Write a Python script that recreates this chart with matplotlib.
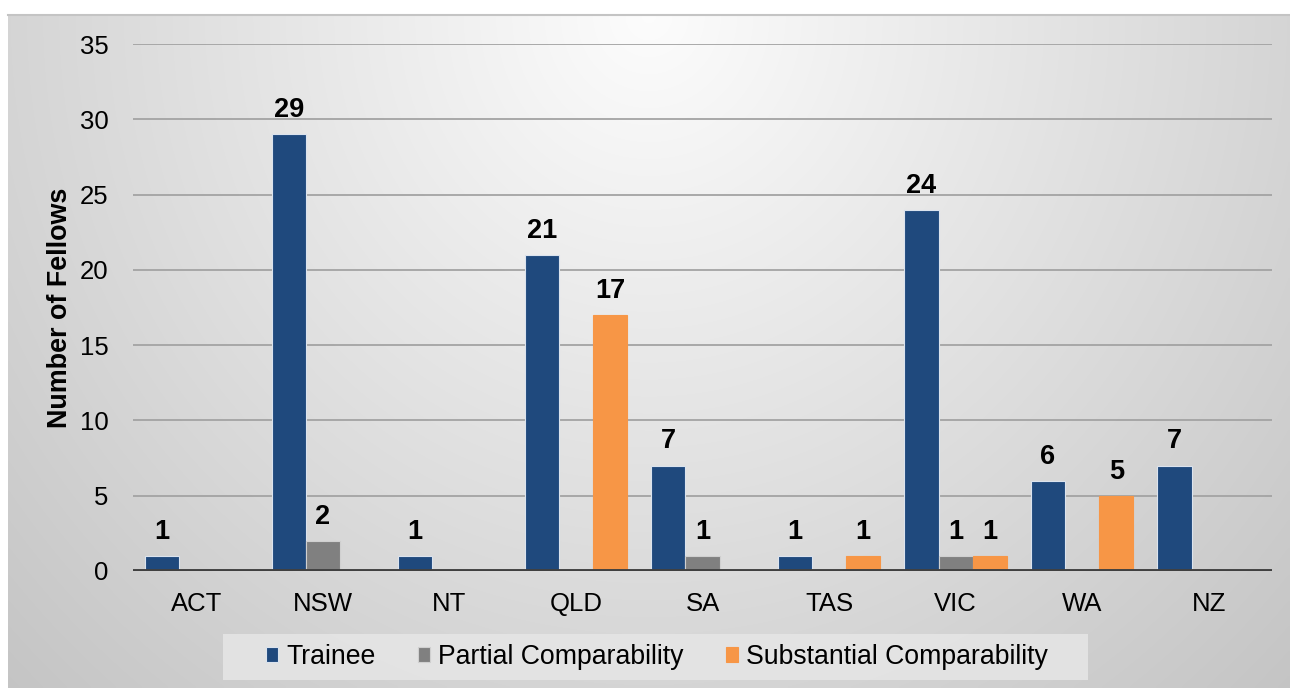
import numpy as np
import matplotlib.pyplot as plt
from matplotlib.lines import Line2D
from matplotlib.patches import Rectangle

plt.rcParams['font.family'] = ['Liberation Sans', 'DejaVu Sans']

regions = ['ACT', 'NSW', 'NT', 'QLD', 'SA', 'TAS', 'VIC', 'WA', 'NZ']
trainee = [1, 29, 1, 21, 7, 1, 24, 6, 7]
partial = [0, 2, 0, 0, 1, 0, 1, 0, 0]
substantial = [0, 0, 0, 17, 0, 1, 1, 5, 0]
series_names = ['Trainee', 'Partial Comparability', 'Substantial Comparability']
series_colors = ['#1F497D', '#808080', '#F79646']
series_edges = ['#dbe3ee', '#d0d0d0', '#F79646']

W, H = 1290, 688
fig = plt.figure(figsize=(W / 100, H / 100), dpi=100)
fig.patch.set_facecolor('white')

# chart area background: soft radial gradient from the top centre
bg = fig.add_axes([8 / W, 0, (W - 8) / W, (H - 14) / H], zorder=-10)
ny, nx = 200, 400
yy, xx = np.mgrid[0:1:ny * 1j, -1:1:nx * 1j]
r = np.sqrt(xx ** 2 + yy ** 2)
shade = 0.99 - 0.155 * r
bg.imshow(np.dstack([shade] * 3), aspect='auto', extent=[0, 1, 0, 1],
          origin='upper', interpolation='bilinear')
bg.set_axis_off()
fig.add_artist(Line2D([8 / W, 1], [(H - 14.5) / H] * 2, color='#c4c4c4', lw=1.5))

# legend panel
fig.add_artist(Rectangle((223 / W, 1 - 680 / H), (1088 - 223) / W, 46 / H,
                         transform=fig.transFigure, facecolor='#e6e6e6',
                         edgecolor='none', alpha=0.85, zorder=-5))

ax = fig.add_axes([133 / W, (H - 571) / H, (1272 - 133) / W, (571 - 44) / H])
ax.patch.set_alpha(0)

x = np.arange(len(regions))
w = 0.27
all_series = [trainee, partial, substantial]
for i, (vals, name, col, ec) in enumerate(zip(all_series, series_names, series_colors, series_edges)):
    pos = x + (i - 1) * w
    bars = ax.bar(pos, vals, w, color=col, edgecolor=ec, linewidth=0.8,
                  label=name, zorder=3)
    for b, v in zip(bars, vals):
        if v > 0:
            ax.annotate(str(v), (b.get_x() + b.get_width() / 2, v),
                        xytext=(0, 8), textcoords='offset points',
                        ha='center', va='bottom', fontsize=19.5,
                        fontweight='bold', color='black', zorder=4)

ax.set_xlim(-0.5, len(regions) - 0.5)
ax.set_ylim(0, 35)
ax.set_yticks(np.arange(0, 36, 5))
ax.set_xticks(x)
ax.set_xticklabels(regions)
ax.tick_params(axis='both', length=0, labelsize=18.5, colors='black')
ax.tick_params(axis='y', pad=17.5)
ax.tick_params(axis='x', pad=15)
for s in ax.spines.values():
    s.set_visible(False)
for yv in range(5, 36, 5):
    ax.axhline(yv, color='#a3a3a3', lw=1.3, zorder=1)
ax.axhline(0, color='#404040', lw=2.8, zorder=5)

fig.text(60 / W, 1 - 307.5 / H, 'Number of Fellows', rotation=90,
         ha='center', va='center', fontsize=19.4, fontweight='bold')

leg = ax.legend(loc='center', bbox_to_anchor=(657 / W, 1 - 657 / H),
                bbox_transform=fig.transFigure, ncol=3, frameon=False,
                fontsize=19.2, handlelength=0.45, handleheight=0.5,
                handletextpad=0.3, columnspacing=1.6, borderpad=0.2,
                borderaxespad=0)

fig.savefig('out.png', dpi=100)
